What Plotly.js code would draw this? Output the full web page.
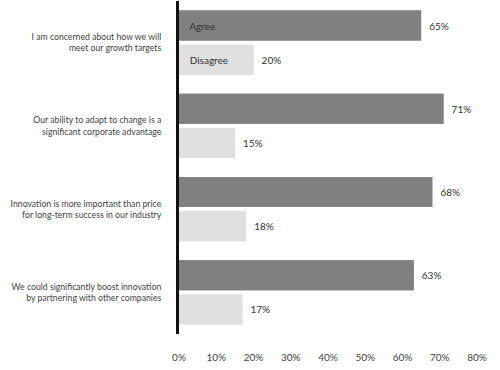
<!DOCTYPE html>
<html>
<head>
<meta charset="utf-8">
<script src="https://cdn.plot.ly/plotly-3.0.1.min.js"></script>
<style>html,body{margin:0;padding:0;background:#fff;}#chart{width:500px;height:370px;}</style>
</head>
<body>
<div id="chart"></div>
<script>
const categories = [
  "I am concerned about how we will<br>meet our growth targets",
  "Our ability to adapt to change is a<br>significant corporate advantage",
  "Innovation is more important than price<br>for long-term success in our industry",
  "We could significantly boost innovation<br>by partnering with other companies"
];
const agree = [65, 71, 68, 63];
const disagree = [20, 15, 18, 17];
const seriesNames = ["Agree", "Disagree"];
const xTickVals = [0, 10, 20, 30, 40, 50, 60, 70, 80];
const xTickText = ["0%", "10%", "20%", "30%", "40%", "50%", "60%", "70%", "80%"];

const FONT = "Lato, 'Open Sans', sans-serif";
const idx = categories.map((_, i) => i);
const NB = "\u00a0";

function seriesTraces(values, name, color, group) {
  return [
    {
      type: "bar", orientation: "h", name: name,
      x: values, y: idx, offsetgroup: group,
      marker: {color: color},
      text: values.map(v => NB + NB + v + "%"),
      textposition: "outside", textangle: 0, cliponaxis: false,
      constraintext: "none",
      outsidetextfont: {family: FONT, size: 10, color: "#333"},
      hoverinfo: "skip"
    },
    {
      type: "bar", orientation: "h", name: name + " label",
      x: values, y: idx, offsetgroup: group,
      marker: {color: color},
      text: values.map((v, i) => i === 0 ? NB + NB + NB + name : ""),
      textposition: "inside", insidetextanchor: "start", textangle: 0,
      constraintext: "none",
      insidetextfont: {family: FONT, size: 10, color: "#333"},
      hoverinfo: "skip"
    }
  ];
}

const data = [
  ...seriesTraces(agree, seriesNames[0], "#808080", "a"),
  ...seriesTraces(disagree, seriesNames[1], "#e0e0e0", "d")
];

const layout = {
  width: 500, height: 370,
  margin: {l: 179, r: 23, t: 1, b: 36},
  paper_bgcolor: "#fff", plot_bgcolor: "#fff",
  showlegend: false,
  barmode: "group",
  bargap: 0.18, bargroupgap: 0.12,
  font: {family: FONT, size: 10, color: "#444"},
  xaxis: {
    range: [0, 80], tickvals: xTickVals, ticktext: xTickText,
    showgrid: false, zeroline: false, showline: false,
    ticks: "", ticklabelstandoff: 16,
    tickfont: {family: FONT, size: 10, color: "#444"},
    fixedrange: true
  },
  yaxis: {
    range: [3.5, -0.5], tickvals: idx, ticktext: categories,
    showgrid: false, zeroline: false,
    showline: true, linecolor: "#111", linewidth: 3,
    ticks: "", ticklabelstandoff: 13,
    tickfont: {family: FONT, size: 8.7, color: "#444"},
    fixedrange: true
  }
};

Plotly.newPlot("chart", data, layout, {displayModeBar: false, staticPlot: true});
</script>
</body>
</html>
